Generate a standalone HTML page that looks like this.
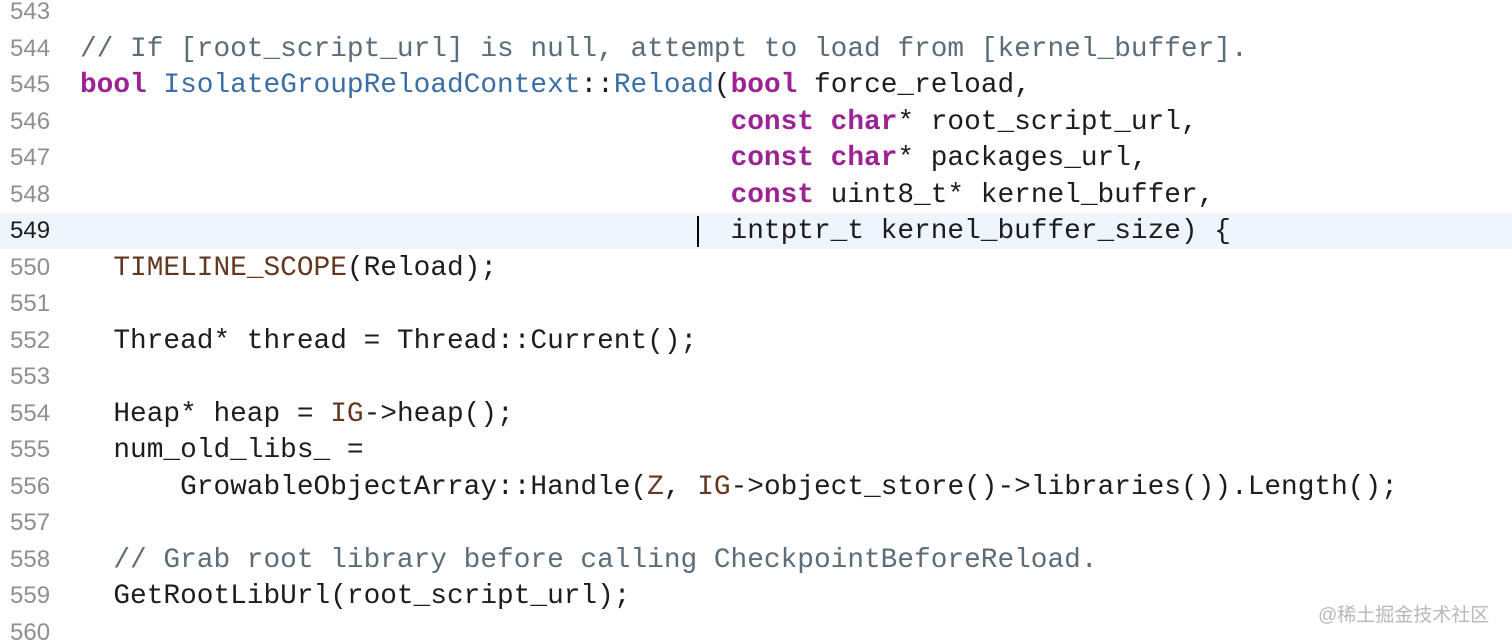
<!DOCTYPE html>
<html><head><meta charset="utf-8"><style>
html,body{margin:0;padding:0;background:#fff;width:1512px;height:643px;overflow:hidden;position:relative}
.l{position:absolute;left:0;width:1512px;height:36.5px;line-height:36.5px;white-space:pre}
.n{position:absolute;left:10px;top:4px;font:24px "Liberation Sans",sans-serif;color:#8e8e93}
.c{position:absolute;left:80px;top:3px;font:27.8px "Liberation Mono",monospace;color:#1d1d1f}
.k{color:#9b2393;font-weight:bold}.t{color:#3a6ea5}.m{color:#5d6c79}.p{color:#643820}
.hl{background:#eef5fd}
</style></head><body>
<div class="l" style="top:-6px"><span class="n">543</span></div>
<div class="l" style="top:30.5px"><span class="n">544</span><span class="c m">// If [root_script_url] is null, attempt to load from [kernel_buffer].</span></div>
<div class="l" style="top:67px"><span class="n">545</span><span class="c"><span class="k">bool</span> <span class="t">IsolateGroupReloadContext</span>::<span class="t">Reload</span>(<span class="k">bool</span> force_reload,</span></div>
<div class="l" style="top:103.5px"><span class="n">546</span><span class="c">                                       <span class="k">const</span> <span class="k">char</span>* root_script_url,</span></div>
<div class="l" style="top:140px"><span class="n">547</span><span class="c">                                       <span class="k">const</span> <span class="k">char</span>* packages_url,</span></div>
<div class="l" style="top:176.5px"><span class="n">548</span><span class="c">                                       <span class="k">const</span> uint8_t* kernel_buffer,</span></div>
<div class="l hl" style="top:212.5px"><span class="n" style="color:#1d1d1f">549</span><span class="c">                                       intptr_t kernel_buffer_size) {</span><span style="position:absolute;left:697px;top:3px;width:2px;height:31px;background:#000"></span></div>
<div class="l" style="top:249.5px"><span class="n">550</span><span class="c">  <span class="p">TIMELINE_SCOPE</span>(Reload);</span></div>
<div class="l" style="top:286px"><span class="n">551</span></div>
<div class="l" style="top:322.5px"><span class="n">552</span><span class="c">  Thread* thread = Thread::Current();</span></div>
<div class="l" style="top:359px"><span class="n">553</span></div>
<div class="l" style="top:395.5px"><span class="n">554</span><span class="c">  Heap* heap = <span class="p">IG</span>-&gt;heap();</span></div>
<div class="l" style="top:432px"><span class="n">555</span><span class="c">  num_old_libs_ =</span></div>
<div class="l" style="top:468.5px"><span class="n">556</span><span class="c">      GrowableObjectArray::Handle(<span class="p">Z</span>, <span class="p">IG</span>-&gt;object_store()-&gt;libraries()).Length();</span></div>
<div class="l" style="top:505px"><span class="n">557</span></div>
<div class="l" style="top:541.5px"><span class="n">558</span><span class="c m">  // Grab root library before calling CheckpointBeforeReload.</span></div>
<div class="l" style="top:578px"><span class="n">559</span><span class="c">  GetRootLibUrl(root_script_url);</span></div>
<div class="l" style="top:614.5px"><span class="n">560</span></div>
<div style="position:absolute;left:1318px;top:600px;font:19px 'Liberation Sans','Noto Sans CJK SC',sans-serif;color:#b8b8bc">@稀土掘金技术社区</div>
</body></html>
